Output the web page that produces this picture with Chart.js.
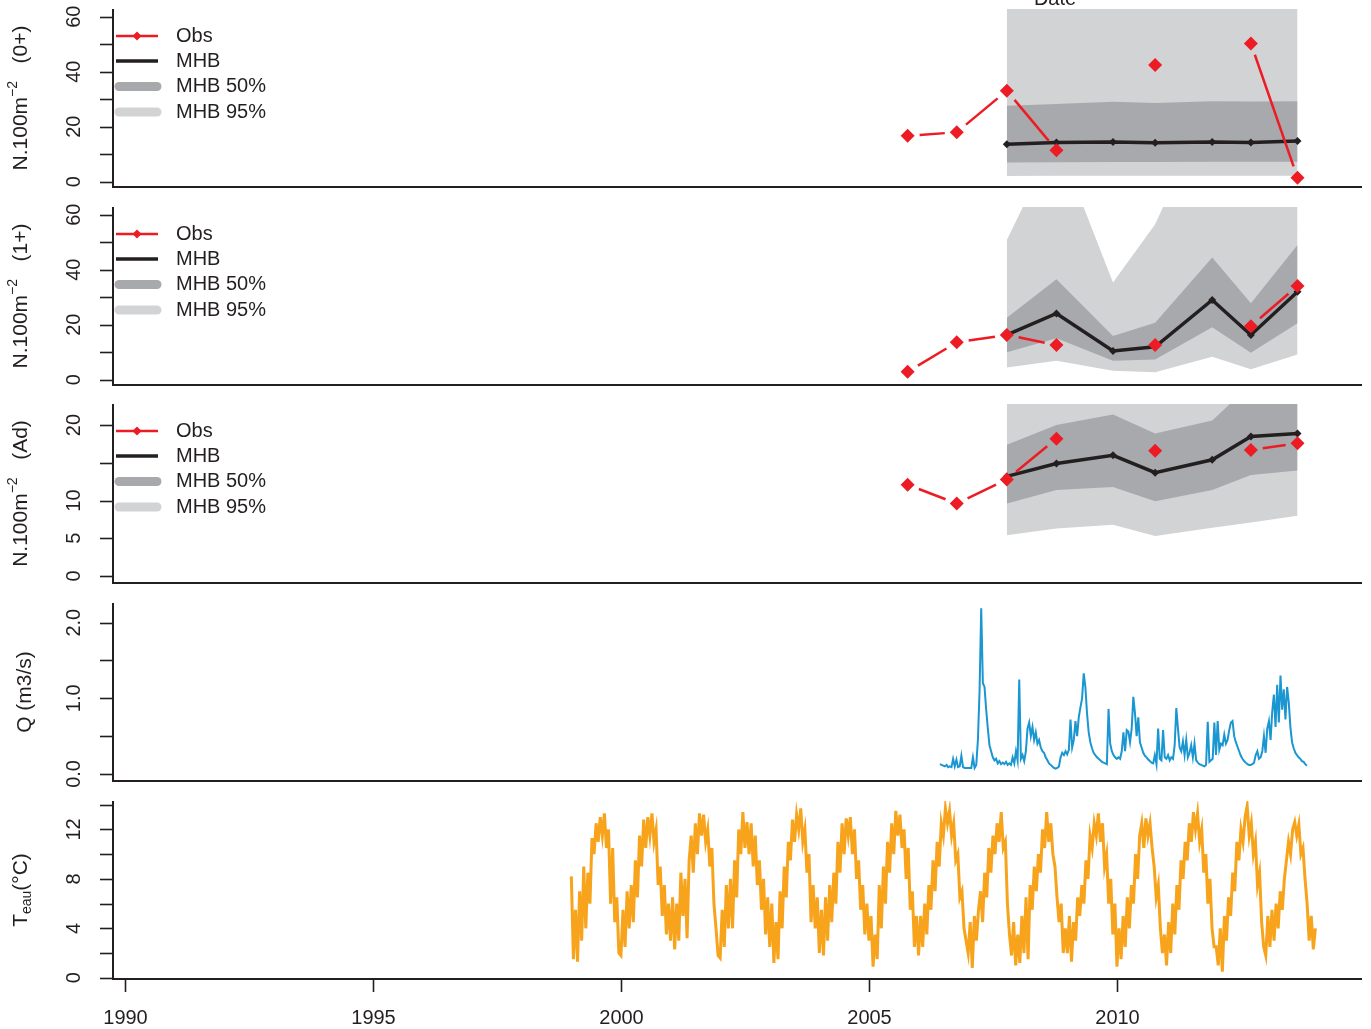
<!DOCTYPE html>
<html>
<head>
<meta charset="utf-8">
<script src="https://cdn.jsdelivr.net/npm/chart.js@4.4.1/dist/chart.umd.min.js"></script>
<style>
  body { margin: 0; background: #fff; }
  #wrap { position: relative; width: 1371px; height: 1029px; overflow: hidden; }
  #wrap canvas { position: absolute; left: 0; }
</style>
</head>
<body>
<div id="wrap">
  <canvas id="p0" width="1371" height="198" style="top:0px"></canvas>
  <canvas id="p1" width="1371" height="198" style="top:198px"></canvas>
  <canvas id="p2" width="1371" height="198" style="top:396px"></canvas>
  <canvas id="p3" width="1371" height="198" style="top:594px"></canvas>
  <canvas id="p4" width="1371" height="237" style="top:792px"></canvas>
</div>
<script>
const INK = '#231F20';
const RED = '#ED1C24';
const DARK = '#A7A9AC';
const LIGHT = '#D1D3D4';
const BLUE = '#1A96D0';
const ORANGE = '#F7A31C';
const FONT = '"Liberation Sans", Arial, Helvetica, sans-serif';

// shared time axis
const X_MIN = 1989.76, X_MAX = 2014.94;
const yearTicks = [1990, 1995, 2000, 2005, 2010];

// sampling dates of the model / observations
const obsYears = [2005.78, 2006.77, 2007.78, 2008.78, 2009.92, 2010.77, 2011.92, 2012.70, 2013.64];
const mhbYears = [2007.78, 2008.78, 2009.92, 2010.77, 2011.92, 2012.70, 2013.64];

// 0+ densities
const obs0 = [16.7, 18.0, 33.1, 11.5, null, 42.4, null, 50.3, 1.5];
const mhb0 = [13.6, 14.3, 14.5, 14.2, 14.5, 14.3, 14.8];
const lo50_0 = [7.0, 7.1, 7.2, 7.2, 7.3, 7.3, 7.3];
const hi50_0 = [27.6, 28.3, 29.1, 28.6, 29.3, 29.2, 29.3];
const lo95_0 = [2.1, 2.2, 2.2, 2.2, 2.2, 2.2, 2.2];
const hi95_0 = [75, 78, 80, 78, 80, 80, 82];

// 1+ densities
const obs1 = [2.9, 13.6, 16.3, 12.6, null, 12.6, null, 19.5, 34.1];
const mhb1 = [16.3, 24.1, 10.5, 12.0, 29.0, 16.3, 32.0];
const lo50_1 = [10.0, 15.1, 6.9, 7.4, 19.1, 9.8, 20.5];
const hi50_1 = [22.5, 36.5, 15.9, 20.7, 44.4, 27.8, 49.0];
const lo95_1 = [4.5, 6.9, 3.3, 2.7, 8.4, 3.8, 9.2];
const hi95_1 = [50.8, 88, 35.4, 56.5, 102, 85, 90];

// adult densities
const obs2 = [12.1, 9.6, 12.8, 18.2, null, 16.6, null, 16.7, 17.6];
const mhb2 = [13.2, 14.9, 16.0, 13.7, 15.4, 18.5, 18.9];
const lo50_2 = [9.6, 11.4, 11.8, 9.9, 11.4, 13.4, 14.0];
const hi50_2 = [17.4, 20.0, 21.4, 18.9, 20.6, 25.4, 26.0];
const lo95_2 = [5.4, 6.3, 6.8, 5.3, 6.4, 7.1, 8.0];
const hi95_2 = [26, 26, 26, 26, 26, 26, 26];

// discharge, one value every 1/30 year from 2006.43
const qStart = 2006.43, qStep = 1 / 30;
const qSeg1 = [0.13, 0.12, 0.11, 0.10, 0.12, 0.09, 0.10, 0.09, 0.20, 0.10,
  0.19, 0.09, 0.10, 0.24, 0.09, 0.08, 0.08, 0.08, 0.08, 0.08,
  0.22, 0.08, 0.12, 0.45, 1.10, 2.19, 1.20, 1.15, 0.85, 0.60,
  0.38, 0.30, 0.22, 0.18, 0.20, 0.14, 0.17, 0.13, 0.15, 0.13,
  0.16, 0.12, 0.14, 0.12, 0.22];
const qSeg2 = [0.14, 0.30, 0.18, 1.25, 0.20,
  0.25, 0.17, 0.30, 0.60, 0.68, 0.50, 0.62, 0.45, 0.55, 0.40,
  0.45, 0.35, 0.30, 0.28, 0.22, 0.18, 0.14, 0.12, 0.10, 0.08,
  0.07, 0.08, 0.10, 0.22, 0.28, 0.25, 0.30, 0.26, 0.32, 0.72,
  0.35, 0.45, 0.70, 0.50, 0.75, 0.88, 1.00, 1.33, 1.15, 0.80];
const qSeg3 = [0.55, 0.42, 0.34, 0.28, 0.25, 0.22, 0.20, 0.18, 0.16, 0.15,
  0.14, 0.13, 0.86, 0.40, 0.30, 0.25, 0.22, 0.20, 0.22, 0.20,
  0.30, 0.55, 0.30, 0.58, 0.56, 0.42, 0.60, 1.02, 0.80, 0.50,
  0.75, 0.42, 0.35, 0.28, 0.24, 0.22, 0.19, 0.17, 0.15, 0.14,
  0.25, 0.13, 0.60, 0.20, 0.18];
const qSeg4 = [0.58, 0.22, 0.20, 0.25, 0.18,
  0.22, 0.20, 0.38, 0.87, 0.60, 0.35, 0.30, 0.43, 0.25, 0.45,
  0.22, 0.28, 0.38, 0.22, 0.40, 0.18, 0.15, 0.13, 0.12, 0.11,
  0.10, 0.12, 0.69, 0.16, 0.18, 0.20, 0.68, 0.25, 0.70, 0.32,
  0.40, 0.38, 0.52, 0.40, 0.45, 0.58, 0.68, 0.70, 0.50, 0.42];
const qSeg5 = [0.36, 0.30, 0.24, 0.20, 0.17, 0.15, 0.13, 0.12, 0.12, 0.13,
  0.15, 0.25, 0.30, 0.20, 0.22, 0.30, 0.50, 0.28, 0.60, 0.70,
  0.45, 0.82, 1.05, 0.62, 1.18, 0.68, 1.30, 0.85, 1.12, 0.72,
  1.15, 0.95, 0.62, 0.42, 0.34, 0.28, 0.25, 0.22, 0.20, 0.17,
  0.16, 0.13, 0.11];

// water temperature, one value every half month from 1999.0
const tStart = 1999.0, tStep = 1 / 24;
const t1999 = [8.2, 1.5, 5.5, 1.3, 7.0, 3.0, 9.0, 4.0, 8.5, 6.0, 11.3, 10.0, 12.5, 11.0, 13.0, 11.5, 13.3, 10.5, 12.0, 6.0, 10.5, 4.5, 6.5, 2.0];
const t2000 = [1.8, 5.5, 2.5, 7.0, 4.0, 7.5, 4.5, 9.5, 6.5, 11.5, 9.0, 12.8, 10.5, 13.0, 11.5, 13.3, 11.0, 12.0, 7.5, 9.0, 5.0, 7.5, 3.5, 6.0];
const t2001 = [3.0, 6.5, 2.3, 6.0, 3.0, 8.5, 5.0, 8.0, 3.2, 9.5, 11.5, 8.5, 12.5, 10.0, 13.3, 11.5, 13.2, 11.0, 12.0, 9.0, 10.5, 6.0, 4.0, 1.8];
const t2002 = [1.6, 5.5, 2.5, 7.5, 4.0, 8.0, 4.0, 9.5, 6.5, 12.0, 10.0, 13.4, 10.5, 12.6, 10.0, 12.5, 9.0, 11.5, 7.5, 9.5, 5.5, 8.0, 3.5, 6.5];
const t2003 = [2.5, 6.0, 1.2, 4.5, 1.5, 7.0, 4.0, 9.0, 6.5, 11.0, 9.5, 12.8, 11.0, 13.2, 12.0, 13.7, 11.0, 12.0, 8.5, 10.0, 4.5, 7.5, 4.0, 6.5];
const t2004 = [2.0, 5.5, 1.8, 6.5, 3.0, 7.5, 4.5, 8.5, 6.0, 11.0, 8.5, 12.5, 10.0, 12.9, 11.5, 13.0, 10.0, 12.0, 8.0, 9.5, 5.5, 7.5, 3.5, 6.0];
const t2005 = [3.0, 5.0, 0.9, 3.5, 1.5, 7.5, 4.0, 9.0, 6.0, 11.0, 8.5, 12.5, 10.0, 13.5, 11.5, 13.2, 10.5, 12.0, 8.0, 10.5, 5.5, 7.0, 2.5, 5.0];
const t2006 = [1.8, 5.0, 2.5, 6.0, 3.5, 7.5, 5.5, 9.5, 7.0, 11.0, 9.0, 12.5, 11.5, 13.7, 12.5, 13.5, 11.5, 12.5, 9.5, 10.0, 6.5, 7.0, 4.0, 3.0];
const t2007 = [2.0, 4.5, 0.8, 5.0, 3.0, 5.5, 7.0, 4.5, 8.5, 6.5, 10.5, 8.5, 11.5, 10.0, 12.5, 11.0, 13.4, 10.5, 11.0, 6.0, 3.5, 1.8, 4.5, 1.0];
const t2008 = [3.5, 1.2, 5.0, 2.0, 6.5, 1.5, 7.5, 5.5, 9.0, 7.0, 10.0, 8.5, 12.0, 10.5, 13.4, 11.0, 12.5, 10.0, 9.0, 6.5, 4.5, 6.0, 2.0, 4.0];
const t2009 = [2.0, 5.0, 1.3, 4.5, 3.0, 6.5, 5.0, 7.5, 6.0, 9.5, 8.0, 11.5, 10.5, 12.5, 11.5, 13.3, 11.0, 12.5, 9.0, 10.0, 6.0, 8.0, 3.5, 6.0];
const t2010 = [0.9, 4.0, 1.5, 5.0, 2.5, 6.5, 4.0, 7.5, 6.0, 10.0, 8.0, 11.5, 12.5, 10.5, 12.9, 11.5, 12.5, 10.5, 9.0, 6.5, 7.5, 4.0, 2.0, 3.5];
const t2011 = [1.0, 4.5, 2.0, 6.0, 3.5, 7.5, 5.5, 9.5, 8.0, 11.0, 9.5, 12.5, 11.0, 13.4, 12.0, 13.3, 11.0, 12.0, 8.5, 10.0, 6.0, 8.0, 4.0, 2.5];
const t2012 = [2.5, 1.0, 4.0, 0.5, 5.0, 3.0, 6.5, 5.0, 8.5, 7.0, 11.0, 9.5, 12.0, 11.0, 13.0, 13.9, 11.5, 12.5, 10.0, 11.0, 7.5, 8.5, 4.5, 2.5];
const t2013 = [1.8, 5.0, 2.5, 5.5, 3.0, 6.0, 4.0, 7.0, 5.5, 8.0, 9.5, 11.0, 10.0, 12.0, 12.6, 11.5, 12.4, 10.0, 10.5, 8.0, 6.0, 3.0, 5.0, 2.3, 4.0];

const qValues = [].concat(qSeg1, qSeg2, qSeg3, qSeg4, qSeg5);
const tValues = [].concat(t1999, t2000, t2001, t2002, t2003, t2004, t2005,
  t2006, t2007, t2008, t2009, t2010, t2011, t2012, t2013);

function pts(xs, ys) { return xs.map((x, i) => ({ x: x, y: ys[i] })); }
function series(start, step, ys) { return ys.map((y, i) => ({ x: start + i * step, y: y })); }

function fishDatasets(obs, mhb, lo50, hi50, lo95, hi95) {
  const band = { borderColor: 'rgba(0,0,0,0)', borderWidth: 0, pointRadius: 0 };
  return [
    Object.assign({ data: pts(mhbYears, lo95), fill: false, order: 6 }, band),
    Object.assign({ data: pts(mhbYears, hi95), fill: '-1', backgroundColor: LIGHT, order: 5 }, band),
    Object.assign({ data: pts(mhbYears, lo50), fill: false, order: 4 }, band),
    Object.assign({ data: pts(mhbYears, hi50), fill: '-1', backgroundColor: DARK, order: 3 }, band),
    {
      data: pts(mhbYears, mhb), borderColor: INK, borderWidth: 3.5, fill: false,
      pointStyle: 'rectRot', pointRadius: 4, pointBackgroundColor: INK,
      pointBorderColor: INK, pointBorderWidth: 0, order: 1
    },
    {
      data: pts(obsYears, obs), showLine: false, fill: false, gapped: true,
      pointStyle: 'rectRot', pointRadius: 7, pointBackgroundColor: RED,
      pointBorderColor: RED, pointBorderWidth: 0, order: 0
    }
  ];
}

// "type b" red line: segments stop short of the diamonds
const gapLines = {
  id: 'gapLines',
  beforeDatasetDraw(chart, args) {
    const ds = chart.data.datasets[args.index];
    if (!ds.gapped) return;
    const ctx = chart.ctx;
    const el = args.meta.data;
    const gap = 12;
    ctx.save();
    ctx.strokeStyle = RED;
    ctx.lineWidth = 2.5;
    for (let i = 1; i < el.length; i++) {
      if (ds.data[i - 1].y == null || ds.data[i].y == null) continue;
      const a = el[i - 1], b = el[i];
      const dx = b.x - a.x, dy = b.y - a.y;
      const len = Math.hypot(dx, dy);
      if (len <= 2 * gap) continue;
      const ux = dx / len, uy = dy / len;
      ctx.beginPath();
      ctx.moveTo(a.x + ux * gap, a.y + uy * gap);
      ctx.lineTo(b.x - ux * gap, b.y - uy * gap);
      ctx.stroke();
    }
    ctx.restore();
  }
};

function richText(ctx, parts) {
  let w = 0;
  parts.forEach(p => { ctx.font = p.size + 'px ' + FONT; w += ctx.measureText(p.text).width; });
  let x = -w / 2;
  parts.forEach(p => {
    ctx.font = p.size + 'px ' + FONT;
    ctx.fillText(p.text, x, p.shift || 0);
    x += ctx.measureText(p.text).width;
  });
}

const densTitle = s => [
  { text: 'N.100m', size: 21 },
  { text: '\u22122', size: 14, shift: -8 },
  { text: '   (' + s + ')', size: 21 }
];
const intFmt = v => String(v);

// per-canvas decoration settings (kept out of Chart.js option resolution)
const frameCfg = {
  p0: { yTicks: [0, 10, 20, 30, 40, 50, 60], yLabels: [0, 20, 40, 60], fmt: intFmt,
    title: densTitle('0+'), titleX: 21, legend: true, date: true },
  p1: { yTicks: [0, 10, 20, 30, 40, 50, 60], yLabels: [0, 20, 40, 60], fmt: intFmt,
    title: densTitle('1+'), titleX: 21, legend: true },
  p2: { yTicks: [0, 5, 10, 15, 20], yLabels: [0, 5, 10, 20], fmt: intFmt,
    title: densTitle('Ad'), titleX: 21, legend: true },
  p3: { yTicks: [0, 0.5, 1, 1.5, 2], yLabels: [0, 1, 2], fmt: v => v.toFixed(1),
    title: [{ text: 'Q (m3/s)', size: 21 }], titleX: 25 },
  p4: { yTicks: [0, 2, 4, 6, 8, 10, 12, 14], yLabels: [0, 4, 8, 12], fmt: intFmt,
    title: [{ text: 'T', size: 21 }, { text: 'eau', size: 14, shift: 6 }, { text: '(\u00B0C)', size: 21 }],
    titleX: 21, xAxis: true }
};

const frame = {
  id: 'frame',
  afterDraw(chart) {
    const o = frameCfg[chart.canvas.id];
    const { ctx, chartArea: { left, right, top, bottom }, scales: { x, y } } = chart;
    ctx.save();
    ctx.strokeStyle = INK;
    ctx.fillStyle = INK;
    ctx.lineWidth = 2;
    ctx.beginPath();
    ctx.moveTo(left, top);
    ctx.lineTo(left, bottom);
    ctx.lineTo(right, bottom);
    ctx.stroke();

    ctx.lineWidth = 1.6;
    o.yTicks.forEach(v => {
      const py = Math.round(y.getPixelForValue(v)) + 0.5;
      ctx.beginPath();
      ctx.moveTo(left - 13, py);
      ctx.lineTo(left, py);
      ctx.stroke();
    });
    ctx.font = '20px ' + FONT;
    ctx.textBaseline = 'middle';
    o.yLabels.forEach(v => {
      const py = y.getPixelForValue(v);
      ctx.save();
      ctx.translate(left - 39, py);
      ctx.rotate(-Math.PI / 2);
      ctx.textAlign = 'center';
      ctx.fillText(o.fmt(v), 0, 0);
      ctx.restore();
    });

    // axis title
    ctx.save();
    ctx.translate(o.titleX, (top + bottom) / 2);
    ctx.rotate(-Math.PI / 2);
    ctx.textAlign = 'left';
    ctx.textBaseline = 'middle';
    richText(ctx, o.title);
    ctx.restore();

    if (o.xAxis) {
      ctx.lineWidth = 1.6;
      ctx.font = '20px ' + FONT;
      ctx.textAlign = 'center';
      ctx.textBaseline = 'middle';
      yearTicks.forEach(v => {
        const px = Math.round(x.getPixelForValue(v)) + 0.5;
        ctx.beginPath();
        ctx.moveTo(px, bottom);
        ctx.lineTo(px, bottom + 13);
        ctx.stroke();
        ctx.fillText(String(v), px, bottom + 39);
      });
    }

    if (o.legend) {
      const rows = [
        { t: 'Obs', dy: 27, c: RED, w: 2.5, dot: true },
        { t: 'MHB', dy: 52, c: INK, w: 3.5 },
        { t: 'MHB 50%', dy: 77.5, c: DARK, w: 9, cap: 'round' },
        { t: 'MHB 95%', dy: 103, c: LIGHT, w: 9, cap: 'round' }
      ];
      rows.forEach(r => {
        const yy = top + r.dy;
        ctx.strokeStyle = r.c;
        ctx.lineWidth = r.w;
        ctx.lineCap = r.cap || 'butt';
        ctx.beginPath();
        ctx.moveTo(r.cap ? 119 : 116, yy);
        ctx.lineTo(r.cap ? 157 : 158, yy);
        ctx.stroke();
        if (r.dot) {
          ctx.fillStyle = RED;
          ctx.beginPath();
          ctx.moveTo(137, yy - 4.5);
          ctx.lineTo(141.5, yy);
          ctx.lineTo(137, yy + 4.5);
          ctx.lineTo(132.5, yy);
          ctx.closePath();
          ctx.fill();
        }
        ctx.fillStyle = INK;
        ctx.font = '20px ' + FONT;
        ctx.textAlign = 'left';
        ctx.textBaseline = 'middle';
        ctx.fillText(r.t, 176, yy);
      });
      ctx.lineCap = 'butt';
    }

    if (o.date) {
      ctx.fillStyle = INK;
      ctx.font = '20px ' + FONT;
      ctx.textAlign = 'center';
      ctx.textBaseline = 'alphabetic';
      ctx.fillText('Date', 1055, 5);
    }
    ctx.restore();
  }
};

const panels = [
  { id: 'p0', pad: [9, 11], ymin: -1.9, ymax: 62.8,
    datasets: fishDatasets(obs0, mhb0, lo50_0, hi50_0, lo95_0, hi95_0) },
  { id: 'p1', pad: [9, 11], ymin: -1.9, ymax: 62.8,
    datasets: fishDatasets(obs1, mhb1, lo50_1, hi50_1, lo95_1, hi95_1) },
  { id: 'p2', pad: [8, 11], ymin: -0.93, ymax: 22.8,
    datasets: fishDatasets(obs2, mhb2, lo50_2, hi50_2, lo95_2, hi95_2) },
  { id: 'p3', pad: [9, 11], ymin: -0.093, ymax: 2.26,
    datasets: [{ data: series(qStart, qStep, qValues), borderColor: BLUE, borderWidth: 2,
      pointRadius: 0, fill: false }] },
  { id: 'p4', pad: [9, 50], ymin: -0.1, ymax: 14.3,
    datasets: [{ data: series(tStart, tStep, tValues), borderColor: ORANGE, borderWidth: 3,
      pointRadius: 0, fill: false }] }
];

panels.forEach(p => {
  new Chart(document.getElementById(p.id), {
    type: 'line',
    data: { datasets: p.datasets },
    options: {
      responsive: false,
      animation: false,
      devicePixelRatio: 1,
      events: [],
      layout: { padding: { left: 113, right: 9, top: p.pad[0], bottom: p.pad[1] } },
      scales: {
        x: { type: 'linear', min: X_MIN, max: X_MAX, display: false },
        y: { type: 'linear', min: p.ymin, max: p.ymax, display: false }
      },
      elements: { line: { tension: 0 } },
      plugins: {
        legend: { display: false },
        tooltip: { enabled: false }
      }
    },
    plugins: [gapLines, frame]
  });
});
</script>
</body>
</html>
